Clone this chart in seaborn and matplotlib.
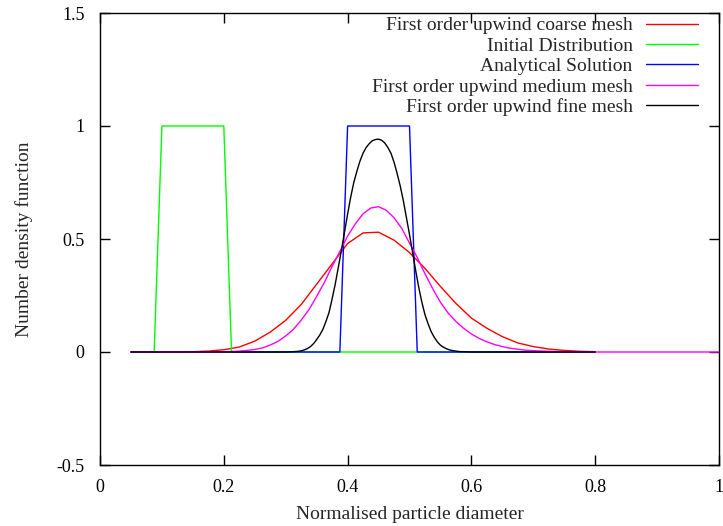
import pandas as pd
import matplotlib
matplotlib.use("Agg")
import matplotlib.pyplot as plt
import seaborn as sns
from matplotlib.ticker import FuncFormatter

# coarse mesh, first order upwind
coarse_x = [0.05, 0.075, 0.1, 0.125, 0.15, 0.175, 0.2, 0.225, 0.25, 0.275, 0.3,
            0.325, 0.35, 0.375, 0.4, 0.425, 0.45, 0.475, 0.5, 0.525, 0.55, 0.575,
            0.6, 0.625, 0.65, 0.675, 0.7, 0.725, 0.75, 0.775, 0.8]
coarse_y = [0.0, 0.0, 0.0002, 0.0005, 0.0015, 0.004, 0.01, 0.022, 0.048, 0.088, 0.14,
            0.21, 0.30, 0.39, 0.48, 0.527, 0.53, 0.495, 0.44, 0.37, 0.29, 0.215,
            0.15, 0.105, 0.068, 0.04, 0.024, 0.013, 0.007, 0.003, 0.0015]

# initial distribution
init_x = [0.05, 0.0875, 0.1, 0.2, 0.2125, 0.8]
init_y = [0, 0, 1, 1, 0, 0]

# analytical solution
exact_x = [0.05, 0.3875, 0.4, 0.5, 0.5125, 0.8]
exact_y = [0, 0, 1, 1, 0, 0]

# medium mesh
medium_x = [0.05, 0.1, 0.15, 0.1875, 0.2, 0.2125, 0.225, 0.2375, 0.25, 0.2625, 0.275,
            0.2875, 0.3, 0.3125, 0.325, 0.3375, 0.35, 0.3625, 0.375, 0.3875, 0.4,
            0.4125, 0.425, 0.4375, 0.45, 0.4625, 0.475, 0.4875, 0.5, 0.5125, 0.525,
            0.5375, 0.55, 0.5625, 0.575, 0.5875, 0.6, 0.6125, 0.625, 0.6375, 0.65,
            0.6625, 0.675, 0.6875, 0.7, 0.725, 0.75, 0.775, 0.8, 0.9, 1.0]
medium_y = [0, 0, 0, 0.0005, 0.0013, 0.002, 0.004, 0.007, 0.011, 0.018, 0.031,
            0.047, 0.071, 0.10, 0.141, 0.187, 0.246, 0.308, 0.379, 0.445, 0.513,
            0.567, 0.612, 0.637, 0.643, 0.627, 0.594, 0.547, 0.482, 0.418, 0.346,
            0.28, 0.22, 0.172, 0.135, 0.105, 0.08, 0.06, 0.045, 0.033, 0.024,
            0.017, 0.012, 0.008, 0.006, 0.003, 0.0015, 0.0005, 0, 0, 0]

# fine mesh
fine_x = [0.05, 0.3, 0.31, 0.32, 0.325, 0.33, 0.335, 0.34, 0.345, 0.35, 0.355, 0.36,
          0.365, 0.37, 0.375, 0.38, 0.385, 0.39, 0.395, 0.4, 0.405, 0.41, 0.415, 0.42,
          0.425, 0.43, 0.435, 0.44, 0.445, 0.45, 0.455, 0.46, 0.465, 0.47, 0.475, 0.48,
          0.485, 0.49, 0.495, 0.5, 0.505, 0.51, 0.515, 0.52, 0.525, 0.53, 0.535, 0.54,
          0.545, 0.55, 0.555, 0.56, 0.565, 0.57, 0.575, 0.58, 0.59, 0.6, 0.8]
fine_y = [0, 0, 0.001, 0.003, 0.005, 0.009, 0.015, 0.024, 0.037, 0.055, 0.075, 0.10,
          0.135, 0.175, 0.235, 0.30, 0.375, 0.45, 0.53, 0.61, 0.685, 0.75, 0.80, 0.845,
          0.88, 0.905, 0.922, 0.935, 0.94, 0.942, 0.937, 0.925, 0.905, 0.88, 0.84, 0.79,
          0.735, 0.67, 0.595, 0.52, 0.44, 0.36, 0.285, 0.22, 0.165, 0.125, 0.09, 0.065,
          0.045, 0.03, 0.021, 0.014, 0.009, 0.006, 0.004, 0.002, 0.001, 0, 0]

labels = ["First order upwind coarse mesh", "Initial Distribution", "Analytical Solution",
          "First order upwind medium mesh", "First order upwind fine mesh"]
colors = ["#ff0000", "#00ff00", "#0000ff", "#ff00ff", "#000000"]

series = [(coarse_x, coarse_y), (init_x, init_y), (exact_x, exact_y),
          (medium_x, medium_y), (fine_x, fine_y)]
frames = []
for name, (xs, ys) in zip(labels, series):
    frames.append(pd.DataFrame({"x": xs, "y": ys, "series": name}))
df = pd.concat(frames, ignore_index=True)

sns.set_theme(style="ticks")
plt.rcParams["font.family"] = ["Liberation Serif", "DejaVu Serif"]
plt.rcParams["font.size"] = 14

fig = plt.figure(figsize=(7.23, 5.26), dpi=100)
ax = fig.add_axes([100 / 723, 61 / 526, 619 / 723, 452 / 526])

sns.lineplot(data=df, x="x", y="y", hue="series", hue_order=labels,
             palette=dict(zip(labels, colors)), estimator=None, sort=False,
             linewidth=1, ax=ax)

ax.set_xlim(0, 1)
ax.set_ylim(-0.5, 1.5)
ax.set_xticks([0, 0.2, 0.4, 0.6, 0.8, 1])
ax.set_yticks([-0.5, 0, 0.5, 1, 1.5])
fmt = FuncFormatter(lambda v, p: "%g" % v)
ax.xaxis.set_major_formatter(fmt)
ax.yaxis.set_major_formatter(fmt)
ax.tick_params(direction="in", length=7, width=1, top=True, right=True,
               labelsize=13, colors="black")
ax.tick_params(axis="y", pad=11)
ax.tick_params(axis="x", pad=10)
for s in ax.spines.values():
    s.set_color("black")
    s.set_linewidth(1)

ax.set_xlabel("Normalised particle diameter", fontsize=14, labelpad=7)
ax.set_ylabel("Number density function", fontsize=14, labelpad=17)

leg = ax.legend(loc="upper right", frameon=False, markerfirst=False, fontsize=14,
                handlelength=2.7, handletextpad=0.67, labelspacing=0.14,
                borderaxespad=0, borderpad=0.2, bbox_to_anchor=(0.9725, 1.0))

fig.savefig("out.png", dpi=100)
